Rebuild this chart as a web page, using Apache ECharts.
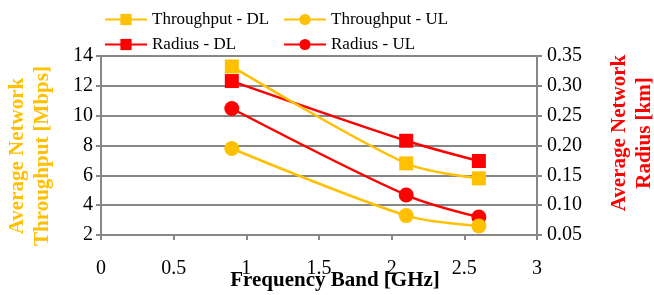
<!DOCTYPE html>
<html>
<head>
<meta charset="utf-8">
<script src="https://cdn.jsdelivr.net/npm/echarts@6/dist/echarts.min.js"></script>
<style>
  html, body { margin: 0; padding: 0; background: #fff; }
  #chart { width: 654px; height: 295px; }
</style>
</head>
<body>
<div id="chart"></div>
<script>
//data
var freqBand = [0.9, 2.1, 2.6];
var throughputDL = [13.3, 6.8, 5.8];
var throughputUL = [7.8, 3.3, 2.6];
var radiusDL = [0.308, 0.208, 0.174];
var radiusUL = [0.262, 0.117, 0.080];

var yellow = '#FFC000';
var red = '#FF0000';
var gray = '#878787';
var serif = '"Liberation Serif", "DejaVu Serif", serif';

function pairs(ys) {
  return ys.map(function(y, i) {
    return [freqBand[i], y];
  });
}

function lineSeries(name, data, color, symbol, axis) {
  return {
    name: name,
    type: 'line',
    yAxisIndex: axis,
    data: pairs(data),
    smooth: 0.3,
    symbol: symbol,
    symbolSize: symbol == 'rect' ? 14 : 15,
    itemStyle: { color: color },
    lineStyle: { color: color, width: 2.5 },
    emphasis: { disabled: true }
  };
}

//one legend per item so the columns line up
function legendItem(name, left, top) {
  return {
    data: [name],
    left: left,
    top: top,
    padding: 0,
    itemWidth: 42,
    itemHeight: 14,
    itemGap: 0,
    textStyle: { fontFamily: serif, fontSize: 17, color: '#000' }
  };
}

var chart = echarts.init(document.getElementById('chart'));

var option = {
  animation: false,
  legend: [
    legendItem('Throughput - DL', 104, 11),
    legendItem('Throughput - UL', 283, 11),
    legendItem('Radius - DL', 104, 36),
    legendItem('Radius - UL', 283, 36)
  ],
  grid: { left: 101, right: 117, top: 56, bottom: 60 },
  xAxis: {
    type: 'value',
    min: 0,
    max: 3,
    interval: 0.5,
    axisLine: { lineStyle: { color: gray, width: 2 } },
    axisTick: { show: true, length: 5, lineStyle: { color: gray, width: 2 } },
    splitLine: { show: false },
    axisLabel: { fontFamily: serif, fontSize: 20, color: '#000', margin: 24 }
  },
  yAxis: [{
    type: 'value',
    min: 2,
    max: 14,
    interval: 2,
    axisLine: { show: true, lineStyle: { color: gray, width: 2 } },
    axisTick: { show: true, length: 5, lineStyle: { color: gray, width: 2 } },
    splitLine: { lineStyle: { color: gray, width: 2 } },
    axisLabel: { fontFamily: serif, fontSize: 20, color: '#000', margin: 8 }
  }, {
    type: 'value',
    position: 'right',
    min: 0.05,
    max: 0.35,
    interval: 0.05,
    axisLine: { show: true, lineStyle: { color: gray, width: 2 } },
    axisTick: { show: true, length: 5, lineStyle: { color: gray, width: 2 } },
    splitLine: { show: false },
    axisLabel: {
      fontFamily: serif, fontSize: 20, color: '#000', margin: 10,
      formatter: function(v) { return v.toFixed(2); }
    }
  }],
  //axis titles placed by hand, like the original
  graphic: [{
    type: 'text',
    x: 30,
    y: 156,
    rotation: Math.PI / 2,
    style: {
      text: 'Average Network\nThroughput [Mbps]',
      fill: yellow,
      font: 'bold 21px ' + serif,
      lineHeight: 25,
      align: 'center',
      verticalAlign: 'middle'
    }
  }, {
    type: 'text',
    x: 632,
    y: 133,
    rotation: Math.PI / 2,
    style: {
      text: 'Average Network\nRadius [km]',
      fill: red,
      font: 'bold 21px ' + serif,
      lineHeight: 25,
      align: 'center',
      verticalAlign: 'middle'
    }
  }, {
    type: 'text',
    x: 335,
    y: 281,
    style: {
      text: 'Frequency Band [GHz]',
      fill: '#000',
      font: 'bold 21px ' + serif,
      align: 'center',
      verticalAlign: 'middle'
    }
  }],
  series: [
    lineSeries('Radius - DL', radiusDL, red, 'rect', 1),
    lineSeries('Radius - UL', radiusUL, red, 'circle', 1),
    lineSeries('Throughput - DL', throughputDL, yellow, 'rect', 0),
    lineSeries('Throughput - UL', throughputUL, yellow, 'circle', 0)
  ]
};

chart.setOption(option);
</script>
</body>
</html>
